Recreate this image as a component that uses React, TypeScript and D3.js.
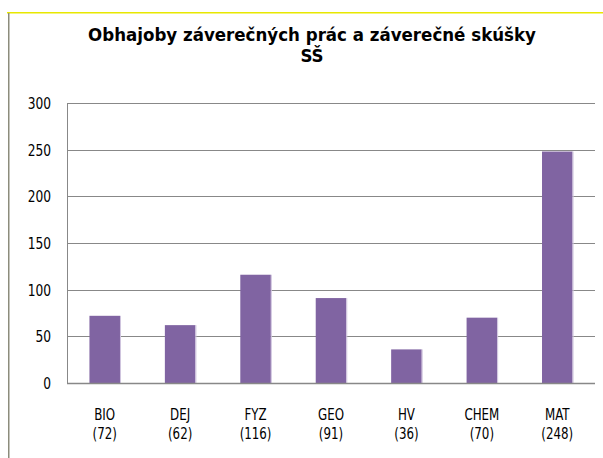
import { useEffect, useRef } from 'react';
import * as d3 from 'd3';

const categories = ['BIO', 'DEJ', 'FYZ', 'GEO', 'HV', 'CHEM', 'MAT'];
const values = [72, 62, 116, 91, 36, 70, 248];
const yTicks = [0, 50, 100, 150, 200, 250, 300];
const titleLines = ['Obhajoby záverečných prác a záverečné skúšky', 'SŠ'];

export default function App() {
  const svgRef = useRef<SVGSVGElement>(null);
  const width = 603;
  const height = 458;

  useEffect(() => {
    if (!svgRef.current) return;
    const svg = d3.select(svgRef.current);
    svg.selectAll('*').remove();

    const font = "'DejaVu Sans Condensed', 'DejaVu Sans', sans-serif";
    const plot = { left: 67, right: 595, top: 103, bottom: 383 };

    // frame: yellow top, grey left
    svg.append('rect').attr('x', 7).attr('y', 12).attr('width', width - 7).attr('height', 1.5).attr('fill', '#e8e800');
    svg.append('rect').attr('x', 8).attr('y', 13).attr('width', 1.5).attr('height', height - 13).attr('fill', '#8c8c7c');

    // title (reference font is wider, so stretch a bit)
    svg.append('g')
      .selectAll('text')
      .data(titleLines)
      .join('text')
      .attr('transform', (_, i) => `translate(312,${41 + i * 21}) scale(1.09,1)`)
      .attr('text-anchor', 'middle')
      .attr('font-family', font)
      .attr('font-weight', 'bold')
      .attr('font-size', '17px')
      .attr('fill', '#000')
      .text((d) => d);

    const x = d3.scaleBand<string>()
      .domain(categories)
      .range([plot.left, plot.right])
      .paddingInner(0.595)
      .paddingOuter(0.2975);

    const y = d3.scaleLinear()
      .domain([0, 300])
      .range([plot.bottom, plot.top]);

    // gridlines
    svg.append('g')
      .selectAll('line')
      .data(yTicks.filter((t) => t > 0))
      .join('line')
      .attr('x1', plot.left)
      .attr('x2', plot.right)
      .attr('y1', (d) => Math.round(y(d)) + 0.5)
      .attr('y2', (d) => Math.round(y(d)) + 0.5)
      .attr('stroke', '#888888')
      .attr('stroke-width', 1);

    // left axis line
    svg.append('line')
      .attr('x1', plot.left + 0.5)
      .attr('x2', plot.left + 0.5)
      .attr('y1', plot.top)
      .attr('y2', plot.bottom)
      .attr('stroke', '#888888');

    // bars
    svg.append('g')
      .selectAll('rect')
      .data(values)
      .join('rect')
      .attr('x', (_, i) => x(categories[i])!)
      .attr('y', (d) => y(d))
      .attr('width', x.bandwidth())
      .attr('height', (d) => y(0) - y(d))
      .attr('fill', '#8064a2');

    // faint light edge on the right of each bar
    svg.append('g')
      .selectAll('rect')
      .data(values)
      .join('rect')
      .attr('x', (_, i) => x(categories[i])! + x.bandwidth())
      .attr('y', (d) => y(d))
      .attr('width', 1)
      .attr('height', (d) => y(0) - y(d))
      .attr('fill', '#cfc4de');

    // bottom axis line
    svg.append('line')
      .attr('x1', plot.left)
      .attr('x2', plot.right)
      .attr('y1', plot.bottom + 0.5)
      .attr('y2', plot.bottom + 0.5)
      .attr('stroke', '#888888')
      .attr('stroke-width', 1.5);

    // y tick labels (tall narrow glyphs)
    svg.append('g')
      .selectAll('text')
      .data(yTicks)
      .join('text')
      .attr('transform', (d) => `translate(51,${y(d) + 6}) scale(0.85,1)`)
      .attr('text-anchor', 'end')
      .attr('font-family', font)
      .attr('font-size', '16px')
      .attr('fill', '#000')
      .text((d) => d);

    // category labels, two lines: name and (count)
    const cx = (d: string) => x(d)! + x.bandwidth() / 2;

    svg.append('g')
      .selectAll('text')
      .data(categories)
      .join('text')
      .attr('transform', (d) => `translate(${cx(d)},420) scale(0.85,1)`)
      .attr('text-anchor', 'middle')
      .attr('font-family', font)
      .attr('font-size', '15.5px')
      .attr('fill', '#000')
      .text((d) => d);

    svg.append('g')
      .selectAll('text')
      .data(categories)
      .join('text')
      .attr('transform', (d) => `translate(${cx(d)},439) scale(0.85,1)`)
      .attr('text-anchor', 'middle')
      .attr('font-family', font)
      .attr('font-size', '15.5px')
      .attr('fill', '#000')
      .text((_, i) => `(${values[i]})`);
  }, []);

  return (
    <svg
      ref={svgRef}
      width={width}
      height={height}
      style={{ position: 'absolute', left: 0, top: 0, background: '#fff' }}
    />
  );
}
